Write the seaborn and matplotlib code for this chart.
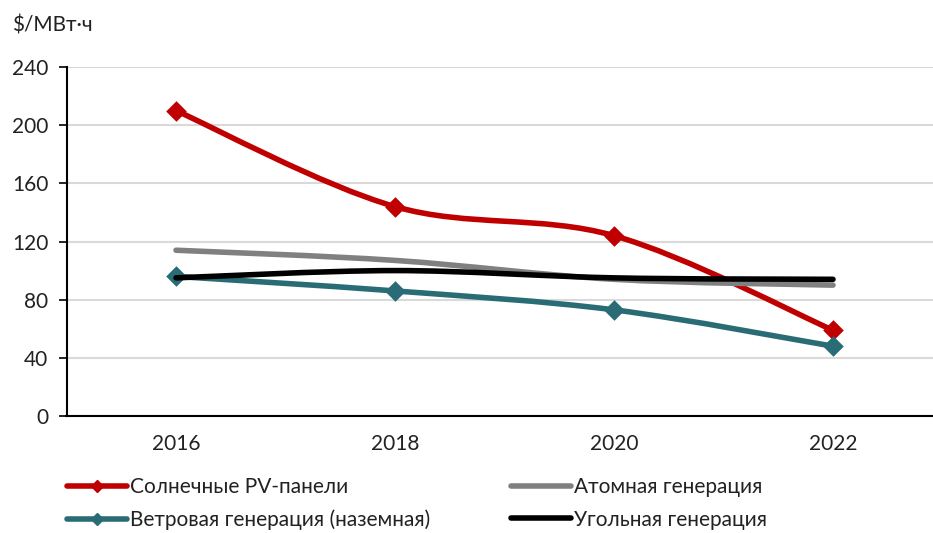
import numpy as np
import pandas as pd
import matplotlib
matplotlib.use("Agg")
import matplotlib.pyplot as plt
import seaborn as sns
from matplotlib.path import Path
from matplotlib.patches import PathPatch
from matplotlib.lines import Line2D

years = ["2016", "2018", "2020", "2022"]
solar = [210, 144, 124, 59]
wind = [96, 86, 73, 48]
nuclear = [114, 107, 94, 90]
coal = [95, 100, 95, 94]
labels = ["Солнечные PV-панели", "Ветровая генерация (наземная)",
          "Атомная генерация", "Угольная генерация"]
yticks = [0, 40, 80, 120, 160, 200, 240]
unit = "$/МВт·ч"

sns.set_style("white")
plt.rcParams["font.family"] = ["Lato", "DejaVu Sans"]
FS = 15

fig = plt.figure(figsize=(9.33, 5.33), dpi=100)
ax = fig.add_axes([66.5 / 933, 0.2195, 876 / 933, 0.6548])

series = [
    (labels[0], solar, "#C00000", True),
    (labels[1], wind, "#2A6C76", True),
    (labels[2], nuclear, "#808080", False),
    (labels[3], coal, "#000000", False),
]

def smooth_path(xs, ys):
    pts = np.column_stack([xs, ys]).astype(float)
    n = len(pts)
    verts = [pts[0]]
    codes = [Path.MOVETO]
    for i in range(n - 1):
        p0 = pts[max(i - 1, 0)]
        p1 = pts[i]
        p2 = pts[i + 1]
        p3 = pts[min(i + 2, n - 1)]
        c1 = p1 + (p2 - p0) / 6.0
        c2 = p2 - (p3 - p1) / 6.0
        verts += [c1, c2, p2]
        codes += [Path.CURVE4] * 3
    return Path(verts, codes)

xs = np.arange(len(years))
handles = []
for z, (name, vals, col, mk) in enumerate(series):
    patch = PathPatch(smooth_path(xs, vals), facecolor="none", edgecolor=col,
                      lw=4.0, capstyle="round", joinstyle="round", zorder=3 + z)
    ax.add_patch(patch)
    if mk:
        df = pd.DataFrame({"x": xs, "y": vals})
        sns.scatterplot(data=df, x="x", y="y", ax=ax, marker="D", s=110,
                        color=col, edgecolor=col, linewidth=0, zorder=3 + z)
    handles.append(Line2D([0], [0], color=col, lw=4.0, solid_capstyle="round",
                          marker="D" if mk else None, markersize=6,
                          markerfacecolor=col, markeredgecolor=col))

ax.set_xlim(-0.5, 3.5)
ax.set_ylim(0, 240)
ax.set_yticks(yticks)
ax.set_yticklabels([str(v) for v in yticks], fontsize=FS, color="#222222")
ax.set_xticks(xs)
ax.set_xticklabels(years, fontsize=FS, color="#222222")
ax.set_xticks(np.arange(-0.5, 3.5, 1.0), minor=True)
ax.tick_params(axis="x", which="major", length=0, pad=13)
ax.tick_params(axis="x", which="minor", length=6, width=1.2, color="black",
               direction="out")
ax.tick_params(axis="y", length=6, width=1.2, color="black", direction="out",
               left=True, pad=7)
ax.set_xlabel("")
ax.set_ylabel("")
ax.grid(axis="y", color="#D9D9D9", lw=1.5, zorder=0)
ax.grid(axis="x", visible=False)
for s in ["top", "right"]:
    ax.spines[s].set_visible(False)
for s in ["left", "bottom"]:
    ax.spines[s].set_color("black")
    ax.spines[s].set_linewidth(1.5)
ax.spines["bottom"].set_zorder(10)

fig.text(12 / 933, 1 - 25 / 533, unit, fontsize=FS, color="#222222",
         ha="left", va="center")

leg = fig.legend(handles, labels,
                 ncol=2, loc="upper left", bbox_to_anchor=(67 / 933, 1 - 477 / 533),
                 frameon=False, fontsize=FS, handlelength=2.9, handletextpad=0.1,
                 columnspacing=3.9, labelspacing=0.6, borderaxespad=0,
                 borderpad=0)
for t in leg.get_texts():
    t.set_color("#222222")

fig.savefig("out.png", dpi=100)
